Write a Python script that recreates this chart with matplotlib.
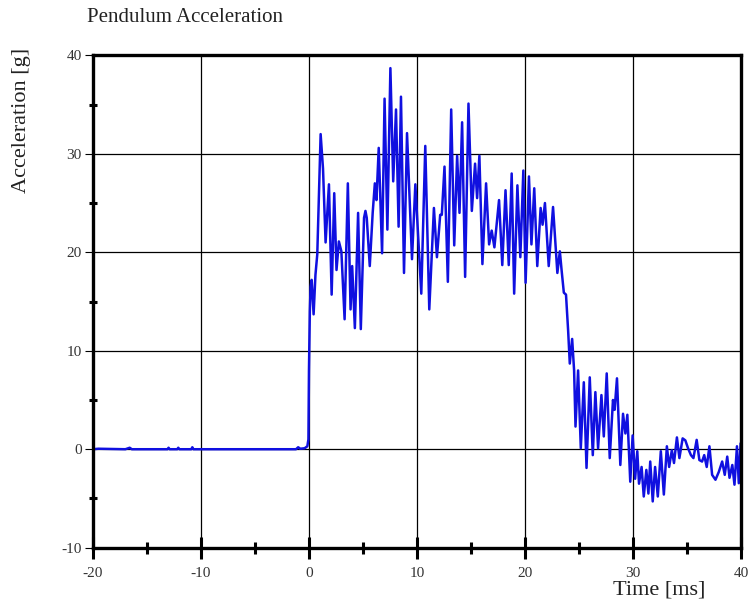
import matplotlib
matplotlib.use('Agg')
import matplotlib.pyplot as plt
from matplotlib.ticker import MultipleLocator

plt.rcParams['font.family'] = ['Liberation Serif', 'DejaVu Serif']
plt.rcParams['axes.unicode_minus'] = False

# Values (peaks / troughs of the trace)
time_ms = [
    -20.0, -19.5, -17.0, -16.6, -16.4, -13.1, -13.0, -12.9, -12.2, -12.1,
    -12.0, -10.9, -10.8, -10.7, -1.2, -1.0, -0.8, -0.4, -0.15, -0.05,
    0.0, 0.08, 0.15, 0.25, 0.43, 0.6, 0.77, 1.08, 1.3, 1.54,
    1.85, 2.1, 2.34, 2.55, 2.77, 3.0, 3.3, 3.6, 3.85, 4.0,
    4.25, 4.55, 4.8, 5.1, 5.23, 5.35, 5.63, 5.9, 6.1, 6.25,
    6.46, 6.77, 7.0, 7.26, 7.54, 7.8, 8.06, 8.3, 8.52, 8.8,
    9.08, 9.54, 9.85, 10.4, 10.77, 11.14, 11.57, 11.85, 12.15, 12.3,
    12.55, 12.86, 13.17, 13.45, 13.72, 13.94, 14.18, 14.46, 14.77, 15.08,
    15.38, 15.57, 15.78, 16.06, 16.4, 16.68, 16.92, 17.17, 17.6, 17.9,
    18.2, 18.5, 18.77, 19.0, 19.3, 19.57, 19.85, 20.06, 20.37, 20.6,
    20.86, 21.14, 21.45, 21.63, 21.85, 22.2, 22.6, 23.0, 23.23, 23.4,
    23.6, 23.8, 24.0, 24.15, 24.37, 24.55, 24.68, 24.92, 25.17, 25.45,
    25.7, 26.0, 26.28, 26.52, 26.77, 27.08, 27.3, 27.57, 27.85, 28.15,
    28.3, 28.52, 28.83, 29.08, 29.3, 29.48, 29.75, 29.97, 30.2, 30.4,
    30.56, 30.8, 31.0, 31.24, 31.43, 31.6, 31.83, 32.05, 32.3, 32.58,
    32.86, 33.14, 33.35, 33.6, 33.8, 34.07, 34.3, 34.6, 34.85, 35.1,
    35.37, 35.6, 35.9, 36.15, 36.4, 36.6, 36.83, 37.08, 37.33, 37.64,
    37.95, 38.26, 38.5, 38.73, 38.94, 39.2, 39.4, 39.63, 39.8, 39.97,
]
accel_g = [
    0.0, 0.05, 0.0, 0.15, 0.0, 0.0, 0.15, 0.0, 0.0, 0.15,
    0.0, 0.0, 0.2, 0.0, 0.0, 0.2, 0.05, 0.1, 0.3, 1.0,
    8.0, 14.0, 16.5, 17.2, 13.7, 17.7, 19.8, 32.0, 28.5, 21.0,
    26.9, 15.7, 26.0, 18.2, 21.1, 20.1, 13.2, 27.0, 14.2, 18.6,
    12.3, 24.0, 12.2, 23.5, 24.2, 23.5, 18.6, 24.0, 27.0, 25.3,
    30.6, 19.9, 35.6, 22.3, 38.7, 27.2, 34.5, 22.6, 35.8, 17.9,
    32.1, 19.3, 26.9, 15.8, 30.8, 14.2, 24.5, 19.5, 23.8, 23.8,
    28.7, 17.0, 34.5, 20.7, 29.8, 24.0, 33.2, 17.5, 35.1, 24.2,
    29.0, 25.5, 29.8, 18.8, 27.0, 20.8, 22.2, 20.5, 25.3, 18.7,
    26.3, 18.7, 28.0, 15.8, 26.8, 19.5, 28.3, 16.9, 27.7, 20.8,
    26.5, 18.6, 24.5, 22.8, 25.0, 18.6, 24.6, 17.9, 20.1, 18.1,
    15.9, 15.7, 12.0, 8.7, 11.2, 8.0, 2.3, 8.0, 0.1, 6.8,
    -1.9, 7.3, -0.6, 5.8, 0.1, 5.5, 1.3, 7.7, -0.9, 5.0,
    4.0, 7.2, -1.6, 3.6, 1.6, 3.5, -3.3, 1.4, -3.0, -0.2,
    -3.5, -1.8, -4.8, -2.1, -4.5, -1.25, -5.3, -1.8, -4.8, -0.2,
    -4.6, 0.3, -1.8, -0.1, -1.4, 1.2, -0.9, 1.1, 0.9, 0.1,
    -0.6, -0.9, 0.95, -1.1, -1.25, -0.6, -1.8, 0.3, -2.6, -3.1,
    -2.3, -1.25, -2.6, -0.75, -2.9, -1.6, -3.6, 0.3, -3.45, 0.6,
]

x_ticks = [-20, -10, 0, 10, 20, 30, 40]
y_ticks = [-10, 0, 10, 20, 30, 40]

fig = plt.figure(figsize=(7.54, 6.04), dpi=100)
ax = fig.add_axes([0.1233, 0.0932, 0.8594, 0.8152])

ax.plot(time_ms, accel_g, color='#1010e0', linewidth=1.8,
        solid_joinstyle='round', solid_capstyle='round')

ax.set_xlim(-20, 40)
ax.set_ylim(-10, 40)
ax.set_xticks(x_ticks)
ax.set_yticks(y_ticks)
ax.xaxis.set_minor_locator(MultipleLocator(5))
ax.yaxis.set_minor_locator(MultipleLocator(5))

ax.grid(True, which='major', color='black', linewidth=0.9)
ax.set_axisbelow(True)

for s in ax.spines.values():
    s.set_linewidth(2.4)

# tick styling to mimic the old plotting package
ax.tick_params(axis='x', which='major', direction='inout', length=16, width=2.2,
               labelsize=11, pad=6, colors='black')
ax.tick_params(axis='x', which='minor', direction='inout', length=8, width=2.2)
ax.tick_params(axis='y', which='major', direction='out', length=6, width=0.8,
               labelsize=11, pad=2)
ax.tick_params(axis='y', which='minor', direction='inout', length=6, width=2.2)
for lbl in ax.get_xticklabels() + ax.get_yticklabels():
    lbl.set_color('#333333')

fig.text(87 / 754, 1 - 17 / 604, 'Pendulum Acceleration', fontsize=15,
         ha='left', va='center', color='#222222')
fig.text(22 / 754, 1 - 120 / 604, 'Acceleration [g]', fontsize=16,
         rotation=90, ha='center', va='center', color='#222222')
fig.text(705 / 754, 1 - 590 / 604, 'Time [ms]', fontsize=16,
         ha='right', va='center', color='#222222')

fig.savefig('out.png', dpi=100)
